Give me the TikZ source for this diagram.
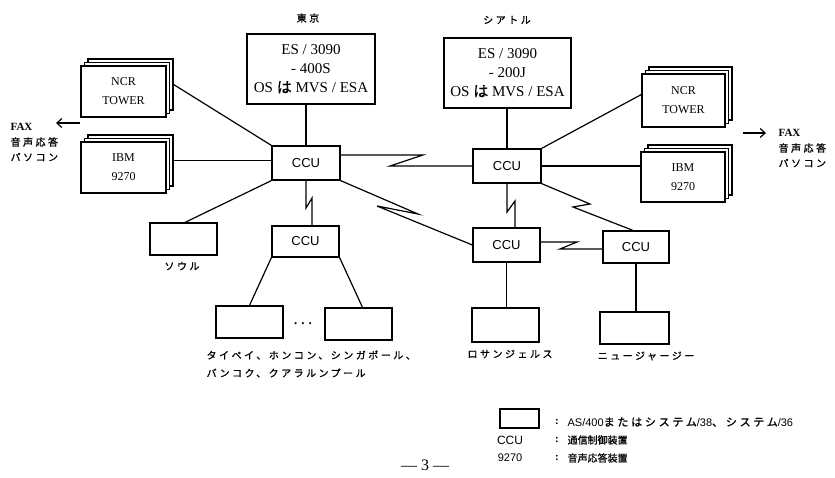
\documentclass[tikz,border=0pt]{standalone}
\usepackage{fontspec}
\setmainfont{Liberation Serif}
\setsansfont{Liberation Sans}
\newfontfamily\jp[FakeBold=0.6]{Noto Sans CJK JP}
\newfontfamily\jpsp[LetterSpace=25, FakeBold=1]{Noto Sans CJK JP}
\usetikzlibrary{arrows.meta}
\begin{document}
\begin{tikzpicture}[x=1pt,y=-1pt, line width=1.2pt,
  box/.style={draw, fill=white, inner sep=0pt},
  ccu/.style={box, minimum width=67pt, minimum height=33pt, font=\sffamily\fontsize{13}{15}\selectfont},
  sys/.style={box, minimum width=67pt, minimum height=32pt},
  host/.style={box, minimum width=128pt, minimum height=70pt, align=center, font=\fontsize{15}{19}\selectfont},
  stk/.style={box, minimum width=85pt, minimum height=51pt, align=center, font=\fontsize{12}{19}\selectfont},
  jl/.style={font=\jpsp\fontsize{10}{12}\selectfont, inner sep=0pt},
  fx/.style={font=\bfseries\fontsize{11}{12}\selectfont, inner sep=0pt, anchor=west},
  lg/.style={inner sep=0pt, anchor=west},
  arr/.style={-{Straight Barb[length=5pt,width=9pt]}},
]
\useasboundingbox (0,0) rectangle (835,477);

% hosts
\node[jl] (tokyo) at (308,18) {東京};
\node[jl] (seattle) at (507,20) {シアトル};
\node[host] (thost) at (311,69) {ES / 3090\\- 400S\\OS {\jp は} MVS / ESA};
\node[host, minimum width=127pt] (shost) at (507.5,73) {ES / 3090\\- 200J\\OS {\jp は} MVS / ESA};

% stacked boxes, left
\node[stk] (ncrLb) at (130.5,84.5) {};
\node[stk] (ncrLm) at (127,88) {};
\node[stk] (ncrL) at (123.5,91.5) {NCR\\TOWER};
\node[stk] (ibmLb) at (130.5,160.5) {};
\node[stk] (ibmLm) at (127,164) {};
\node[stk] (ibmL) at (123.5,167.5) {IBM\\9270};

% stacked boxes, right
\node[stk, minimum width=83pt, minimum height=53pt] (ncrRb) at (690.5,93.5) {};
\node[stk, minimum width=83pt, minimum height=53pt] (ncrRm) at (687,97) {};
\node[stk, minimum width=83pt, minimum height=53pt] (ncrR) at (683.5,100.5) {NCR\\TOWER};
\node[stk, minimum width=84pt, minimum height=50pt] (ibmRb) at (690,170) {};
\node[stk, minimum width=84pt, minimum height=50pt] (ibmRm) at (686.5,173.5) {};
\node[stk, minimum width=84pt, minimum height=50pt] (ibmR) at (683,177) {IBM\\9270};

% CCUs
\node[ccu, minimum width=68pt, minimum height=34pt] (tccu) at (306,163) {CCU};
\node[ccu, minimum width=68pt, minimum height=34pt] (sccu) at (507,166) {CCU};
\node[ccu, minimum height=31pt] (subccu) at (305.5,241.5) {CCU};
\node[ccu, minimum height=34pt] (laccu) at (506.5,245) {CCU};
\node[ccu, minimum width=66pt, minimum height=32pt] (njccu) at (636,247) {CCU};

% systems
\node[sys] (seoul) at (183.5,239) {};
\node[sys] (taipei) at (249.5,322) {};
\node[sys] (sgbox) at (358.5,324) {};
\node[sys, minimum height=34pt] (labox) at (505.5,325) {};
\node[sys, minimum width=69pt] (njbox) at (634.5,328) {};

% labels
\node[jl] (seoulL) at (182,266) {ソウル};
\node[inner sep=0pt, font=\bfseries\fontsize{13}{13}\selectfont] (dots) at (303,324) {.\hspace{4pt}.\hspace{4pt}.};
\node[jl, anchor=west] (tpL1) at (206,355) {タイペイ、ホンコン、シンガポール、};
\node[jl, anchor=west] (tpL2) at (206,373) {バンコク、クアラルンプール};
\node[jl] (laL) at (510,354) {ロサンジェルス};
\node[jl] (njL) at (646,356) {ニュージャージー};

% FAX
\coordinate (faxLs) at (80,123);
\coordinate (faxLe) at (56,123);
\draw[arr] (faxLs) -- (faxLe);
\node[fx] (faxL1) at (10,127) {FAX};
\node[jl, anchor=west] (faxL2) at (10,142) {音声応答};
\node[jl, anchor=west] (faxL3) at (10,157) {パソコン};
\coordinate (faxRs) at (743,133);
\coordinate (faxRe) at (766,133);
\draw[arr] (faxRs) -- (faxRe);
\node[fx] (faxR1) at (778,133) {FAX};
\node[jl, anchor=west] (faxR2) at (778,148) {音声応答};
\node[jl, anchor=west] (faxR3) at (778,163) {パソコン};

% plain connectors
\draw (tccu.north) -- (tccu.north |- thost.south);
\draw (sccu.north) -- (sccu.north |- shost.south);
\draw (ncrLb.east) -- (tccu.north west);
\draw (ibmLb.east) -- (ibmLb.east -| tccu.west);
\draw (sccu.north east) -- ([yshift=6pt]ncrR.west);
\draw (sccu.east) -- (sccu.east -| ibmR.west);
\draw (tccu.south west) -- ([xshift=1.5pt]seoul.north);
\draw (subccu.south west) -- (taipei.north);
\draw (subccu.south east) -- ([xshift=4pt]sgbox.north);
\draw (laccu.south) -- (laccu.south |- labox.north);
\draw (njccu.south) -- (njccu.south |- njbox.north);

% zigzag (line) connectors
\coordinate (z1a) at (423,155); \coordinate (z1b) at (390,166);
\draw (tccu.east |- z1a) -- (z1a) -- (z1b) -- (sccu.west |- z1b);
\coordinate (z2a) at (418,214); \coordinate (z2b) at (377,206);
\draw (tccu.south east) -- (z2a) -- (z2b) -- (laccu.west);
\coordinate (z3a) at (306,208); \coordinate (z3b) at (312,198);
\draw (tccu.south) -- (z3a) -- (z3b) -- (z3b |- subccu.north);
\coordinate (z4a) at (507,212); \coordinate (z4b) at (515,201);
\draw (sccu.south) -- (z4a) -- (z4b) -- (z4b |- laccu.north);
\coordinate (z5a) at (590,204); \coordinate (z5b) at (573,207);
\draw (sccu.south east) -- (z5a) -- (z5b) -- ([xshift=-3pt]njccu.north);
\coordinate (z6a) at (577,242); \coordinate (z6b) at (560,249);
\draw (laccu.east |- z6a) -- (z6a) -- (z6b) -- (njccu.west |- z6b);

% legend
\node[box, minimum width=39pt, minimum height=19pt] (legbox) at (519.5,418.5) {};
\node[inner sep=0pt, font=\sffamily\fontsize{12}{12}\selectfont] (legccu) at (510,440) {CCU};
\node[inner sep=0pt, font=\sffamily\fontsize{11}{12}\selectfont] (leg9270) at (510,458) {9270};
\node[inner sep=0pt, font=\bfseries\fontsize{11}{12}\selectfont] (c1) at (557,422) {:};
\node[inner sep=0pt, font=\bfseries\fontsize{11}{12}\selectfont] (c2) at (557,440) {:};
\node[inner sep=0pt, font=\bfseries\fontsize{11}{12}\selectfont] (c3) at (557,458) {:};
\node[lg, font=\fontsize{11}{12}\selectfont] (legt1) at (567,422) {{\sffamily AS/400}{\jpsp またはシステム}{\sffamily /38}{\jpsp 、システム}{\sffamily /36}};
\node[lg, font=\jp\fontsize{10}{12}\selectfont] (legt2) at (567,440) {通信制御装置};
\node[lg, font=\jp\fontsize{10}{12}\selectfont] (legt3) at (567,458) {音声応答装置};

% page number
\node[anchor=south, inner sep=0pt, font=\fontsize{16}{16}\selectfont] (pnum) at (425,471) {— 3 —};
\end{tikzpicture}
\end{document}
